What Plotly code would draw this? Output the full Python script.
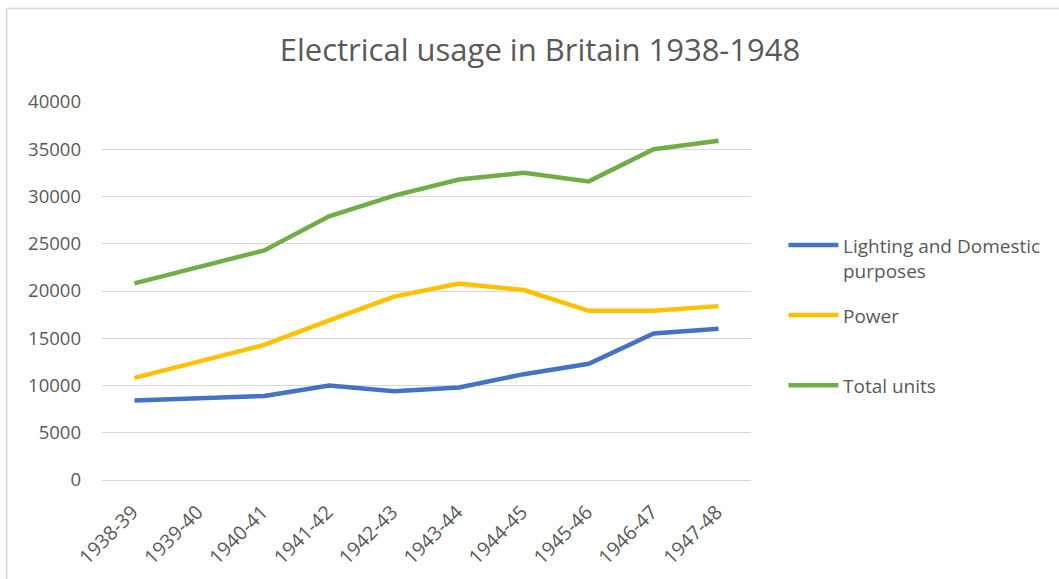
import plotly.graph_objects as go

categories = ["1938-39", "1939-40", "1940-41", "1941-42", "1942-43",
              "1943-44", "1944-45", "1945-46", "1946-47", "1947-48"]
lighting = [8400, 8700, 8900, 10000, 9400, 9800, 11200, 12300, 15500, 16000]
power = [10800, 12500, 14300, 16900, 19400, 20800, 20100, 17900, 17900, 18400]
total = [20800, 22500, 24300, 27900, 30100, 31800, 32500, 31600, 35000, 35900]
y_ticks = [0, 5000, 10000, 15000, 20000, 25000, 30000, 35000, 40000]

W, H = 1059, 579
L, R, T, B = 101.5, 307.5, 102.3, 99.3
pw = W - L - R
ph = H - T - B

FONT = "Open Sans"
GREY = "#595959"

series = [
    ("Lighting and Domestic<br>purposes", lighting, "#4472C4"),
    ("Power", power, "#FFC000"),
    ("Total units", total, "#70AD47"),
]

fig = go.Figure()
for name, vals, col in series:
    fig.add_trace(go.Scatter(
        x=categories, y=vals, mode="lines", name=name,
        line=dict(color=col, width=4.5), showlegend=False,
    ))


def px_x(p):
    return (p - L) / pw


def px_y(p):
    return (H - B - p) / ph


shapes = [
    dict(type="line", xref="paper", yref="paper",
         x0=px_x(6), x1=px_x(W + 5), y0=px_y(9), y1=px_y(9),
         line=dict(color="#D9D9D9", width=1.5)),
    dict(type="line", xref="paper", yref="paper",
         x0=px_x(6), x1=px_x(6), y0=px_y(9), y1=px_y(H + 5),
         line=dict(color="#D9D9D9", width=1.5)),
]
annotations = []
# legend, drawn beside the plot (one entry per series, 70 px apart)
leg_top = 245
for i, (name, vals, col) in enumerate(series):
    yy = leg_top + 70 * i
    shapes.append(dict(type="line", xref="paper", yref="paper",
                       x0=px_x(789), x1=px_x(839), y0=px_y(yy), y1=px_y(yy),
                       line=dict(color=col, width=4.5)))
    annotations.append(dict(xref="paper", yref="paper", x=px_x(842), y=px_y(yy - 14),
                            xanchor="left", yanchor="top", align="left",
                            text=name, showarrow=False,
                            font=dict(family=FONT, size=19, color=GREY)))

fig.update_layout(
    width=W, height=H,
    margin=dict(l=L, r=R, t=T, b=B, pad=0, autoexpand=False),
    paper_bgcolor="white", plot_bgcolor="white",
    title=dict(text="Electrical usage in Britain 1938-1948",
               x=540 / W, xanchor="center", y=1 - 50 / H, yanchor="middle",
               font=dict(family=FONT, size=31, color=GREY)),
    font=dict(family=FONT, color=GREY),
    xaxis=dict(showgrid=False, showline=False, zeroline=False,
               tickangle=-45, tickfont=dict(size=19.5, color=GREY),
               ticks="", range=[-0.5, 9.5], automargin=False,
               ticklabelshift=-2, ticklabelstandoff=16),
    yaxis=dict(range=[0, 40000], tickvals=y_ticks,
               ticktext=[str(v) for v in y_ticks], showgrid=True,
               gridcolor="#D9D9D9", gridwidth=1.3, zeroline=True,
               zerolinecolor="#D9D9D9", zerolinewidth=1.3, automargin=False,
               showline=False, ticks="", tickfont=dict(size=18.5, color=GREY),
               ticklabelstandoff=20),
    showlegend=False,
    shapes=shapes,
    annotations=annotations,
)

fig.write_html("out.html")
